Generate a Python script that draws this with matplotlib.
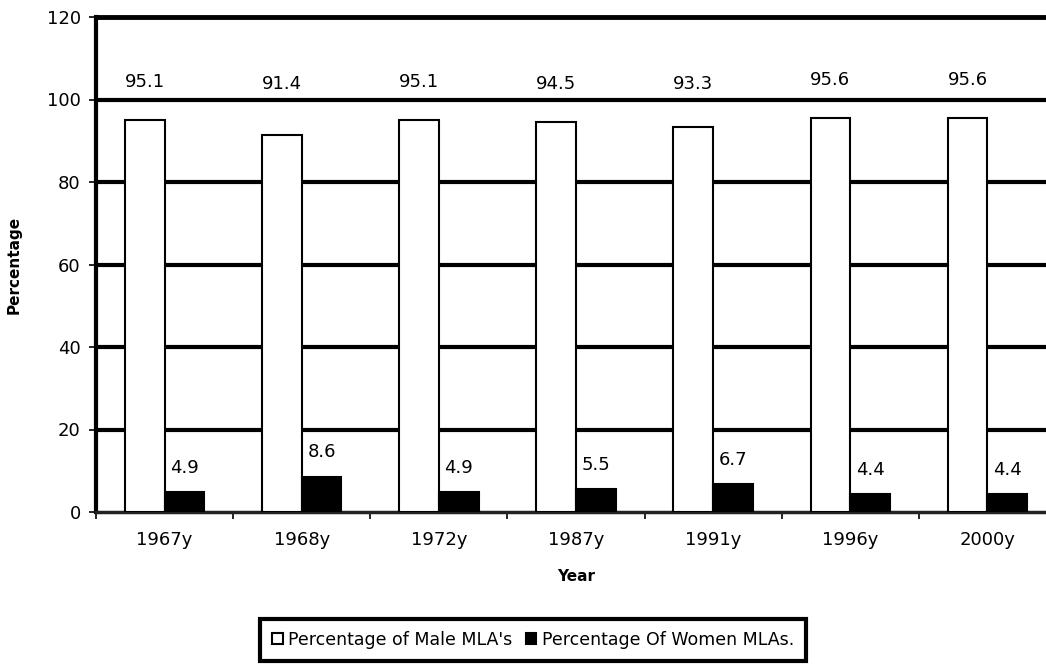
import matplotlib
matplotlib.use("Agg")
import matplotlib.pyplot as plt
import numpy as np

years = ["1967y", "1968y", "1972y", "1987y", "1991y", "1996y", "2000y"]
male = [95.1, 91.4, 95.1, 94.5, 93.3, 95.6, 95.6]
women = [4.9, 8.6, 4.9, 5.5, 6.7, 4.4, 4.4]

plt.rcParams['font.family'] = ['DejaVu Sans']

fig = plt.figure(figsize=(10.46, 6.67), dpi=100)
ax = fig.add_axes([96 / 1046, 155 / 667, 960 / 1046, 495 / 667])

x = np.arange(len(years))
w = 0.29
b1 = ax.bar(x - w / 2, male, w, color="white", edgecolor="black", linewidth=1.5,
            label="Percentage of Male MLA's", zorder=3)
b2 = ax.bar(x + w / 2, women, w, color="black", edgecolor="black", linewidth=1.5,
            label="Percentage Of Women MLAs.", zorder=3)

# male labels sit above the 100 gridline like in the original sheet
for rect, v in zip(b1, male):
    ax.text(rect.get_x() + rect.get_width() / 2, max(v + 7, 101.6), f"{v}",
            ha="center", va="bottom", fontsize=13)
for rect, v in zip(b2, women):
    ax.annotate(f"{v}", (rect.get_x() + rect.get_width() / 2, v), xytext=(0, 11),
                textcoords="offset points", ha="center", va="bottom", fontsize=13)

ax.set_ylim(0, 120)
ax.set_yticks(range(0, 121, 20))
ax.set_xlim(-0.5, len(years) - 0.5)
ax.set_xticks(x)
ax.set_xticklabels(years)
ax.set_xticks(np.arange(-0.5, len(years), 1), minor=True)
ax.tick_params(axis="x", which="major", length=0, pad=14, labelsize=13)
ax.tick_params(axis="x", which="minor", length=5, width=1.2)
ax.tick_params(axis="y", length=5, width=1.2, labelsize=13, pad=6)

for gy in range(20, 101, 20):
    ax.axhline(gy, color="black", linewidth=3, zorder=1)

ax.spines["left"].set_linewidth(3)
ax.spines["top"].set_linewidth(3.5)
ax.spines["right"].set_visible(False)
ax.spines["bottom"].set_linewidth(2.5)
ax.spines["bottom"].set_color("#222222")

ax.set_ylabel("Percentage", fontsize=11, fontweight="bold", labelpad=18)
ax.set_xlabel("Year", fontsize=11, fontweight="bold", labelpad=14)

leg = fig.legend(loc="upper center", bbox_to_anchor=(533 / 1046, 1 - 610 / 667), ncol=2,
                 fontsize=12.5, frameon=True, fancybox=False, framealpha=1,
                 handlelength=0.6, handleheight=0.6, handletextpad=0.3,
                 columnspacing=0.8, borderpad=0.7, edgecolor="black")
leg.get_frame().set_linewidth(3)

fig.savefig("out.png", dpi=100)
